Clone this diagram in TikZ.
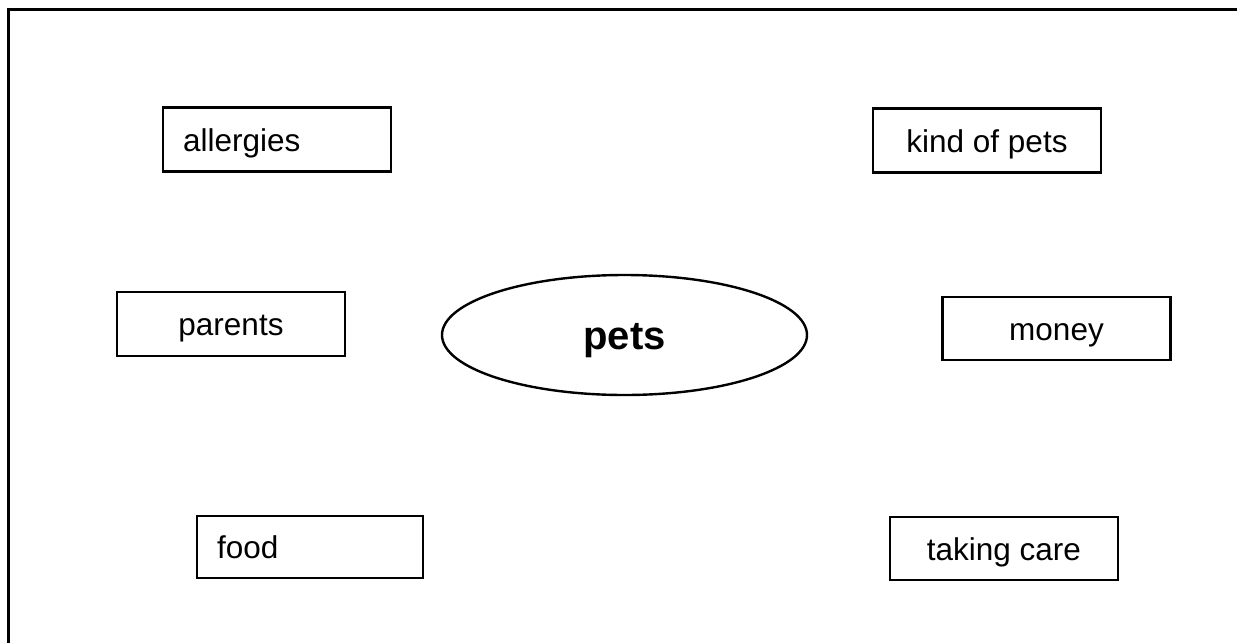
\documentclass[tikz,border=0pt]{standalone}
\usepackage{fontspec}
\setmainfont{Liberation Sans}
\usetikzlibrary{shapes.geometric}
\tikzset{
  topic/.style={draw, line width=2.6pt, rectangle, minimum width=228pt, minimum height=64pt, inner sep=0pt,
    text height=29pt, text depth=6pt, font=\fontsize{31.5}{36}\selectfont},
  lefttopic/.style={topic, text width=188pt, align=left, inner xsep=20pt},
  hub/.style={draw, line width=2.4pt, ellipse, minimum width=365pt, minimum height=120pt, inner sep=0pt,
    text height=36pt, text depth=8pt, font=\fontsize{40}{46}\selectfont\bfseries},
  frameline/.style={line width=3pt}
}
\begin{document}
\begin{tikzpicture}[x=1pt,y=-1pt]
\useasboundingbox (0,0) rectangle (1237,643);
\coordinate (fa) at (8,643);
\coordinate (fb) at (8,9);
\coordinate (fc) at (1237,9);
\draw[frameline] (fa) -- (fb) -- (fc);
\node[lefttopic] (allergies) at (277,139.5) {allergies};
\node[topic] (parents) at (231,324) {parents};
\node[topic] (kind) at (987,140.5) {kind of pets};
\node[topic, minimum height=63pt] (money) at (1056.5,328.5) {money};
\node[lefttopic, minimum height=62pt, text width=186pt, minimum width=226pt] (food) at (310,547) {food};
\node[topic, minimum height=63pt] (care) at (1004,548.5) {taking care};
\node[hub] (pets) at (624.5,335) {pets};
\end{tikzpicture}
\end{document}
